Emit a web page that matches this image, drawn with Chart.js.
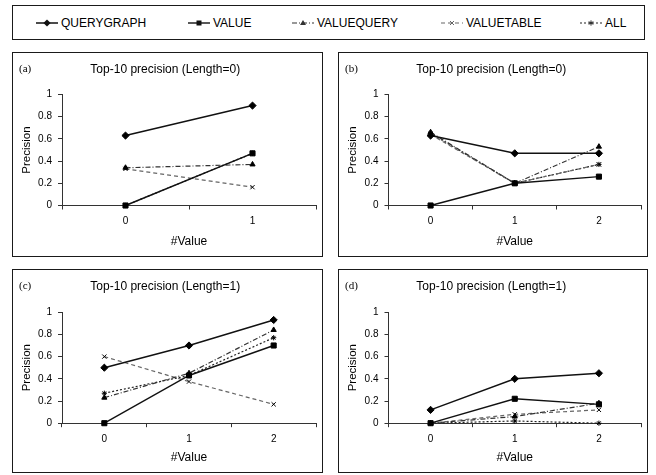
<!DOCTYPE html>
<html>
<head>
<meta charset="utf-8">
<script src="https://cdn.jsdelivr.net/npm/chart.js@4"></script>
<style>
  html, body { margin: 0; padding: 0; background: #fff; }
  body { width: 656px; height: 475px; position: relative; overflow: hidden; font-family: "Liberation Sans", Arial, sans-serif; }
  .legend-box { position: absolute; left: 12px; top: 5px; width: 633px; height: 35px; border: 1.5px solid #1a1a1a; box-sizing: border-box; }
  .legend-item { position: absolute; top: 1px; height: 32px; display: flex; align-items: center; font-size: 12px; color: #000; }
  .legend-item svg { margin-right: 3px; }
  .panel { position: absolute; border: 1.5px solid #1a1a1a; box-sizing: border-box; }
  .panel canvas { position: absolute; left: 0; top: 0; }
  .panel-tag { position: absolute; left: 6px; top: 9px; font-family: "Liberation Serif", "Times New Roman", serif; font-size: 11px; color: #000; }
</style>
</head>
<body>
<div class="legend-box" id="legend"></div>

<script>
  // categories (#Value)
  const catsTwo = ["0", "1"];
  const catsThree = ["0", "1", "2"];
  const yTicks = [0, 0.2, 0.4, 0.6, 0.8, 1];

  const seriesNames = ["QUERYGRAPH", "VALUE", "VALUEQUERY", "VALUETABLE", "ALL"];

  // (a) Length=0, #Value 0..1
  const aQueryGraph = [0.63, 0.9];
  const aValue = [0, 0.47];
  const aValueQuery = [0.34, 0.37];
  const aValueTable = [0.33, 0.165];
  const aAll = [0, 0.47];

  // (b) Length=0, #Value 0..2
  const bQueryGraph = [0.63, 0.47, 0.47];
  const bValue = [0, 0.2, 0.26];
  const bValueQuery = [0.66, 0.2, 0.53];
  const bValueTable = [0.64, 0.2, 0.37];
  const bAll = [0.65, 0.2, 0.37];

  // (c) Length=1
  const cQueryGraph = [0.5, 0.7, 0.93];
  const cValue = [0, 0.43, 0.7];
  const cValueQuery = [0.23, 0.45, 0.84];
  const cValueTable = [0.6, 0.375, 0.17];
  const cAll = [0.27, 0.43, 0.77];

  // (d) Length=1
  const dQueryGraph = [0.12, 0.4, 0.45];
  const dValue = [0, 0.22, 0.17];
  const dValueQuery = [0, 0.06, 0.18];
  const dValueTable = [0, 0.08, 0.12];
  const dAll = [0, 0.02, 0];

  const styles = [
    { color: "#111", width: 1.5, dash: [], point: "rectRot", radius: 3.6 },
    { color: "#111", width: 1.4, dash: [], point: "rect", radius: 3.6 },
    { color: "#333", width: 1.2, dash: [5, 2, 1, 2], point: "triangle", radius: 3 },
    { color: "#666", width: 1.2, dash: [4, 3], point: "crossRot", radius: 3 },
    { color: "#222", width: 1.2, dash: [2, 2], point: "star", radius: 2.6 },
  ];

  const panels = [
    { tag: "(a)", title: "Top-10 precision (Length=0)", cats: catsTwo,
      data: [aQueryGraph, aValue, aValueQuery, aValueTable, aAll],
      left: 12, top: 52, w: 311, h: 205, axisW: 49, padR: 3.5, titleBottom: 18.3, xAxisH: 49.5 },
    { tag: "(b)", title: "Top-10 precision (Length=0)", cats: catsThree,
      data: [bQueryGraph, bValue, bValueQuery, bValueTable, bAll],
      left: 338, top: 52, w: 310, h: 205, axisW: 49.5, padR: 2.5, titleBottom: 18.3, xAxisH: 49.5 },
    { tag: "(c)", title: "Top-10 precision (Length=1)", cats: catsThree,
      data: [cQueryGraph, cValue, cValueQuery, cValueTable, cAll],
      left: 12, top: 269, w: 311, h: 204, axisW: 49, padR: 3.5, titleBottom: 19, xAxisH: 47.8 },
    { tag: "(d)", title: "Top-10 precision (Length=1)", cats: catsThree,
      data: [dQueryGraph, dValue, dValueQuery, dValueTable, dAll],
      left: 338, top: 269, w: 310, h: 204, axisW: 49.5, padR: 2.5, titleBottom: 19, xAxisH: 47.8 },
  ];

  Chart.defaults.font.family = '"Liberation Sans", Arial, sans-serif';
  Chart.defaults.color = "#000";

  // legend (HTML, samples drawn as svg)
  const legendX = [35, 187, 291, 440, 579];
  const markerSvg = (style) => {
    const c = style.color;
    switch (style.point) {
      case "rectRot": return `<polygon points="11,2.4 14.6,6 11,9.6 7.4,6" fill="${c}"/>`;
      case "rect": return `<rect x="8.5" y="3.5" width="5" height="5" fill="${c}"/>`;
      case "triangle": return `<polygon points="11,3 14,8 8,8" fill="${c}"/>`;
      case "crossRot": return `<path d="M9,4 L13,8 M13,4 L9,8" stroke="${c}" stroke-width="1"/>`;
      default: return `<path d="M11,3.4 L11,8.6 M8.7,4.7 L13.3,7.3 M13.3,4.7 L8.7,7.3" stroke="${c}" stroke-width="1"/>`;
    }
  };
  const legend = document.getElementById("legend");
  seriesNames.forEach((name, i) => {
    const s = styles[i];
    const item = document.createElement("div");
    item.className = "legend-item";
    item.style.left = (legendX[i] - 12) + "px";
    item.innerHTML =
      `<svg width="22" height="12" viewBox="0 0 22 12">` +
      `<line x1="0" y1="6" x2="22" y2="6" stroke="${s.color}" stroke-width="${s.width}" stroke-dasharray="${s.dash.join(" ")}"/>` +
      markerSvg(s) + `</svg><span>${name}</span>`;
    legend.appendChild(item);
  });

  panels.forEach((p) => {
    const box = document.createElement("div");
    box.className = "panel";
    Object.assign(box.style, { left: p.left + "px", top: p.top + "px", width: p.w + "px", height: p.h + "px" });
    const canvas = document.createElement("canvas");
    canvas.width = p.w - 3;
    canvas.height = p.h - 3;
    canvas.style.width = (p.w - 3) + "px";
    canvas.style.height = (p.h - 3) + "px";
    box.appendChild(canvas);
    const tag = document.createElement("span");
    tag.className = "panel-tag";
    tag.textContent = p.tag;
    box.appendChild(tag);
    document.body.appendChild(box);

    new Chart(canvas, {
      type: "line",
      data: {
        labels: p.cats,
        datasets: p.data.map((values, i) => ({
          label: seriesNames[i],
          data: values,
          borderColor: styles[i].color,
          borderWidth: styles[i].width,
          borderDash: styles[i].dash,
          backgroundColor: styles[i].color,
          pointStyle: styles[i].point,
          pointRadius: styles[i].radius,
          pointBorderWidth: 1,
          pointBorderColor: "#000",
          pointBackgroundColor: "#000",
          tension: 0,
          fill: false,
          clip: false,
        })),
      },
      options: {
        responsive: false,
        animation: false,
        events: [],
        layout: { padding: { left: 0, right: p.padR, top: 0, bottom: 0 } },
        plugins: {
          legend: { display: false },
          tooltip: { enabled: false },
          title: {
            display: true,
            text: p.title,
            color: "#000",
            font: { size: 12, weight: "normal" },
            padding: { top: 9.5, bottom: p.titleBottom - 0.7 },
          },
        },
        scales: {
          x: {
            type: "category",
            offset: true,
            grid: { drawOnChartArea: false, drawTicks: true, tickLength: 4, color: "#333", offset: true },
            border: { display: true, color: "#333", width: 1 },
            ticks: { color: "#000", font: { size: 10 }, padding: 6, maxRotation: 0 },
            title: { display: true, text: "#Value", color: "#000", font: { size: 12 }, padding: { top: 0, bottom: 6.5 } },
            afterFit: (scale) => { scale.height = p.xAxisH; },
          },
          y: {
            min: 0,
            max: 1,
            grid: { drawOnChartArea: false, drawTicks: true, tickLength: 4, color: "#333" },
            border: { display: true, color: "#333", width: 1 },
            ticks: { color: "#000", font: { size: 10 }, padding: 6, callback: (v) => String(+Number(v).toFixed(2)) },
            afterBuildTicks: (scale) => { scale.ticks = yTicks.map((v) => ({ value: v })); },
            title: { display: true, text: "Precision", color: "#000", font: { size: 11.5 }, padding: { top: 7, bottom: 0 } },
            afterFit: (scale) => { scale.width = p.axisW; },
          },
        },
      },
    });
  });
</script>
</body>
</html>
